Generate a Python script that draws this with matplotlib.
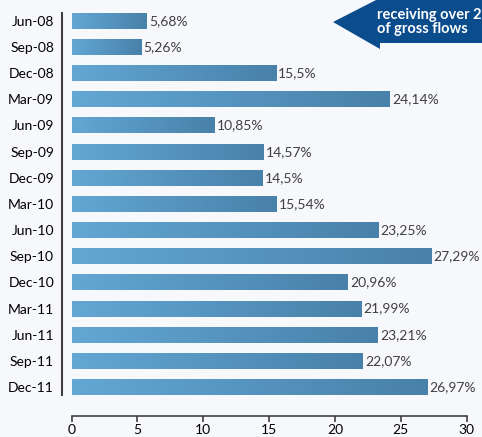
"""Quarterly share bar chart with gradient bars."""

import matplotlib
matplotlib.use("Agg")
import matplotlib.pyplot as plt
import numpy as np
from matplotlib.colors import LinearSegmentedColormap
from matplotlib.patches import Polygon

PERIODS = ["Jun-08", "Sep-08", "Dec-08", "Mar-09", "Jun-09", "Sep-09", "Dec-09", "Mar-10",
           "Jun-10", "Sep-10", "Dec-10", "Mar-11", "Jun-11", "Sep-11", "Dec-11"]
SHARES = [5.68, 5.26, 15.5, 24.14, 10.85, 14.57, 14.5, 15.54,
          23.25, 27.29, 20.96, 21.99, 23.21, 22.07, 26.97]
LABELS = ["5,68%", "5,26%", "15,5%", "24,14%", "10,85%", "14,57%", "14,5%", "15,54%",
          "23,25%", "27,29%", "20,96%", "21,99%", "23,21%", "22,07%", "26,97%"]
X_TICKS = [0, 5, 10, 15, 20, 25, 30]
CALLOUT = "receiving over 2\nof gross flows"

BG = "#f7f8fc"
plt.rcParams["font.family"] = ["Lato", "DejaVu Sans"]

fig = plt.figure(figsize=(4.82, 4.37), dpi=100, facecolor=BG)
ax = fig.add_axes([0.1487, 0.0961, 0.968 - 0.1487, 0.9703 - 0.0961])
ax.set_facecolor(BG)

cmap = LinearSegmentedColormap.from_list("bar", ["#63a7d4", "#4881a9"])
grad = np.linspace(0, 1, 256).reshape(1, -1)
bar_h = 0.6
for i, (v, lab) in enumerate(zip(SHARES, LABELS)):
    ax.imshow(grad, cmap=cmap, aspect="auto", extent=(0, v, i + bar_h / 2, i - bar_h / 2),
              zorder=2, interpolation="bilinear")
    ax.text(v + 0.2, i, lab, va="center", ha="left", fontsize=10, color="#404040")

ax.set_xlim(0, 30)
ax.set_ylim(14 + bar_h / 2, -bar_h / 2)
ax.set_yticks(range(len(PERIODS)))
ax.set_yticklabels(PERIODS, fontsize=10, color="#505050")
ax.set_xticks(X_TICKS)
ax.set_xticklabels([str(t) for t in X_TICKS], fontsize=10, color="#505050")
ax.tick_params(axis="y", length=0, pad=5.5)
ax.tick_params(axis="x", length=4, color="#404040", width=1.2, pad=2)
for side in ("top", "right"):
    ax.spines[side].set_visible(False)
ax.spines["left"].set_position(("outward", 7.2))
ax.spines["bottom"].set_position(("outward", 15))
ax.spines["left"].set_color("#404040")
ax.spines["bottom"].set_color("#404040")
ax.spines["left"].set_linewidth(1.5)
ax.spines["bottom"].set_linewidth(1.2)

# callout arrow, clipped at the right edge of the figure
W, H = 482.0, 437.0
pts = [(333, 22), (380, -2), (380, 0), (490, 0), (490, 43), (380, 43), (380, 49)]
arrow = Polygon([(x / W, 1 - y / H) for x, y in pts], closed=True,
                transform=fig.transFigure, facecolor="#0b4c8c", edgecolor="none")
fig.add_artist(arrow)
fig.text(377 / W, 1 - 22 / H, CALLOUT, color="white", fontsize=10.5, fontweight="bold",
         va="center", ha="left", linespacing=1.0)

fig.savefig("out.png", dpi=100, facecolor=BG)
